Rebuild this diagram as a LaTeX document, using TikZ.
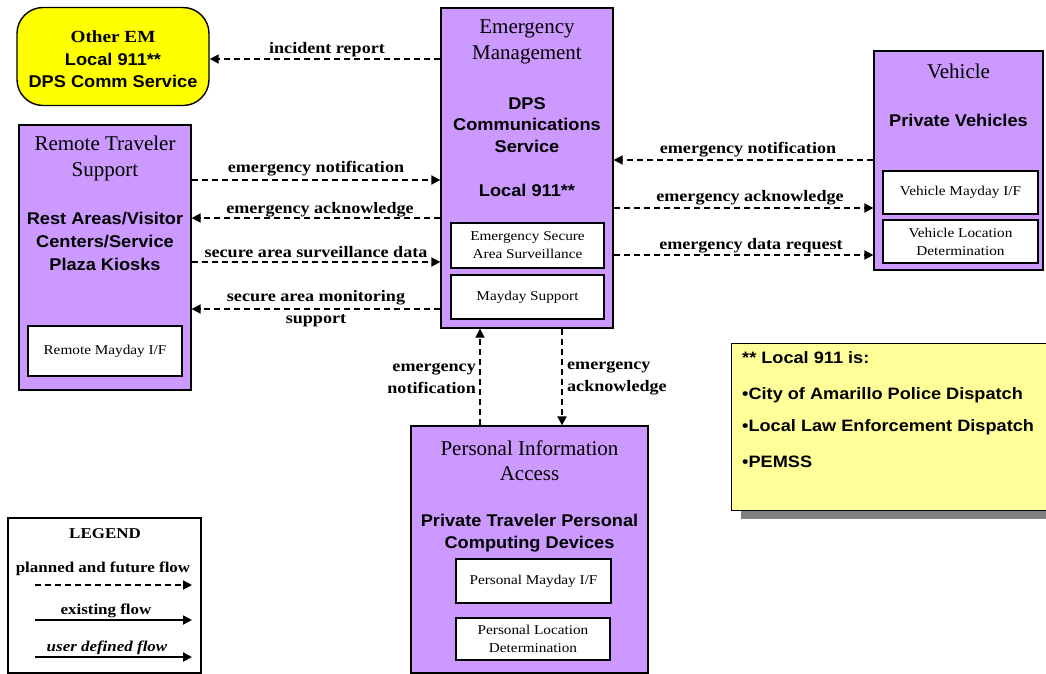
\documentclass[tikz,border=0pt]{standalone}
\usepackage{fontspec}
\setmainfont{Liberation Serif}
\setsansfont{Liberation Sans}
\newfontfamily\wideserif[FakeStretch=1.13]{Liberation Serif}
\newfontfamily\widesans[FakeStretch=1.07]{Liberation Sans}
\newfontfamily\notesans[FakeStretch=1.1]{Liberation Sans}
\usetikzlibrary{arrows.meta}
\definecolor{sysfill}{RGB}{204,153,255}
\definecolor{termfill}{RGB}{255,255,0}
\definecolor{notefill}{RGB}{255,255,153}
\definecolor{shadowgray}{RGB}{128,128,128}
\tikzset{
  sysbox/.style={draw=black, line width=1.3pt, fill=sysfill, inner sep=0pt},
  subbox/.style={draw=black, line width=1.1pt, fill=white, inner sep=0pt, align=center, font=\wideserif\fontsize{13.5}{18}\selectfont},
  titletext/.style={align=center, inner sep=0pt, yshift=-1.5pt, font=\fontsize{21}{25.5}\selectfont},
  boldtext/.style={align=center, inner sep=0pt, yshift=-1pt, font=\widesans\bfseries\fontsize{17}{21.5}\selectfont},
  flowlabel/.style={align=center, inner sep=0pt, yshift=-1.5pt, font=\wideserif\bfseries\fontsize{16}{22}\selectfont},
  notetext/.style={anchor=west, inner sep=0pt, font=\notesans\bfseries\fontsize{16.5}{20}\selectfont},
  legtext/.style={inner sep=0pt, font=\wideserif\bfseries\fontsize{15}{18}\selectfont},
  flow/.style={line width=1.8pt, dash pattern=on 6pt off 4pt, -{Triangle[length=9pt,width=9pt]}},
  solidflow/.style={line width=1.8pt, -{Triangle[length=9pt,width=9pt]}},
}
\begin{document}
\begin{tikzpicture}[x=1pt,y=-1pt]
\useasboundingbox[fill=white] (0,0) rectangle (1046,673);

% Other EM terminator
\node[draw=black, line width=1.4pt, fill=termfill, rounded corners=26pt, minimum width=192pt, minimum height=98pt, inner sep=0pt] (oem) at (113,56.5) {};
\node[align=center, inner sep=0pt, font=\wideserif\bfseries\fontsize{17}{22}\selectfont] (oemt) at (113,37) {Other EM};
\node[align=center, inner sep=0pt, font=\widesans\bfseries\fontsize{17}{22}\selectfont] (oemb) at (113,70) {Local 911**\\DPS Comm Service};

% Emergency Management
\node[sysbox, minimum width=172pt, minimum height=320pt] (em) at (527,168) {};
\node[titletext] (emt) at (527,40.5) {Emergency\\Management};
\node[boldtext] (emb) at (527,124) {DPS\\Communications\\Service};
\node[boldtext] (eml) at (527,189) {Local 911**};
\node[subbox, minimum width=153pt, minimum height=45pt] (esas) at (527.5,245.5) {Emergency Secure\\Area Surveillance};
\node[subbox, minimum width=153pt, minimum height=44pt] (mds) at (527.5,297) {Mayday Support};

% Remote Traveler Support
\node[sysbox, minimum width=172pt, minimum height=265pt] (rts) at (105,257.5) {};
\node[titletext] (rtst) at (105,157) {Remote Traveler\\Support};
\node[boldtext, font=\widesans\bfseries\fontsize{17}{23}\selectfont] (rtsb) at (105,240) {Rest Areas/Visitor\\Centers/Service\\Plaza Kiosks};
\node[subbox, minimum width=154pt, minimum height=50pt] (rmif) at (105,351) {Remote Mayday I/F};

% Vehicle
\node[sysbox, minimum width=169pt, minimum height=219pt] (veh) at (958.5,160.5) {};
\node[titletext] (veht) at (958.5,70) {Vehicle};
\node[boldtext] (vehb) at (958.5,119) {Private Vehicles};
\node[subbox, minimum width=155pt, minimum height=43pt] (vmif) at (960.5,192.5) {Vehicle Mayday I/F};
\node[subbox, minimum width=155pt, minimum height=43pt] (vld) at (960.5,241.5) {Vehicle Location\\Determination};

% Personal Information Access
\node[sysbox, minimum width=237pt, minimum height=247pt] (pia) at (529.5,549.5) {};
\node[titletext] (piat) at (529.5,459) {Personal Information\\Access};
\node[boldtext] (piab) at (529.5,532) {Private Traveler Personal\\Computing Devices};
\node[subbox, minimum width=155pt, minimum height=44pt] (pmif) at (533.5,581) {Personal Mayday I/F};
\node[subbox, minimum width=154pt, minimum height=42pt] (pld) at (533,639) {Personal Location\\Determination};

% Note
\node[fill=shadowgray, minimum width=320pt, minimum height=167pt, inner sep=0pt] (noteshadow) at (901,435.5) {};
\node[draw=black, line width=1pt, fill=notefill, minimum width=320pt, minimum height=167pt, inner sep=0pt] (note) at (891,426.5) {};
\node[notetext] (n1) at (742,357.5) {** Local 911 is:};
\node[notetext] (n2) at (742,395.5) {•City of Amarillo Police Dispatch};
\node[notetext] (n3) at (742,427.5) {•Local Law Enforcement Dispatch};
\node[notetext] (n4) at (742,461.5) {•PEMSS};

% Legend
\node[draw=black, line width=1.2pt, fill=white, minimum width=193pt, minimum height=155pt, inner sep=0pt] (legend) at (104.5,595.5) {};
\node[legtext] (legt) at (105,534) {LEGEND};
\node[legtext] (leg1) at (103,569) {planned and future flow};
\node[legtext] (leg2) at (106,611) {existing flow};
\node[legtext, font=\wideserif\bfseries\itshape\fontsize{15}{18}\selectfont] (leg3) at (107,648) {user defined flow};
\coordinate (l1a) at (35,585); \coordinate (l1b) at (192,585);
\coordinate (l2a) at (35,620); \coordinate (l2b) at (192,620);
\coordinate (l3a) at (35,657); \coordinate (l3b) at (192,657);
\draw[flow] (l1a) -- (l1b);
\draw[solidflow] (l2a) -- (l2b);
\draw[solidflow, line width=2.2pt] (l3a) -- (l3b);

% Flows
\draw[flow] (em.west |- 0,59) -- (oem.east |- 0,59);
\node[flowlabel] (lir) at (327,48) {incident report};

\draw[flow] (rts.east |- 0,180) -- (em.west |- 0,180);
\node[flowlabel] (len1) at (316,167) {emergency notification};
\draw[flow] (em.west |- 0,218) -- (rts.east |- 0,218);
\node[flowlabel] (lea1) at (320,208) {emergency acknowledge};
\draw[flow] (rts.east |- 0,262) -- (em.west |- 0,262);
\node[flowlabel] (lsasd) at (316,251) {secure area surveillance data};
\draw[flow] (em.west |- 0,309) -- (rts.east |- 0,309);
\node[flowlabel] (lsams) at (316,307) {secure area monitoring\\support};

\draw[flow] (veh.west |- 0,160) -- (em.east |- 0,160);
\node[flowlabel] (len2) at (748,148) {emergency notification};
\draw[flow] (em.east |- 0,208) -- (veh.west |- 0,208);
\node[flowlabel] (lea2) at (750,196) {emergency acknowledge};
\draw[flow] (em.east |- 0,255) -- (veh.west |- 0,255);
\node[flowlabel] (ledr) at (751,244) {emergency data request};

\draw[flow] (pia.north -| 480,0) -- (em.south -| 480,0);
\node[flowlabel, anchor=east, align=right] (len3) at (476,377) {emergency\\notification};
\draw[flow] (em.south -| 562,0) -- (pia.north -| 562,0);
\node[flowlabel, anchor=west, align=left] (lea3) at (567,377) {emergency\\acknowledge};
\end{tikzpicture}
\end{document}
